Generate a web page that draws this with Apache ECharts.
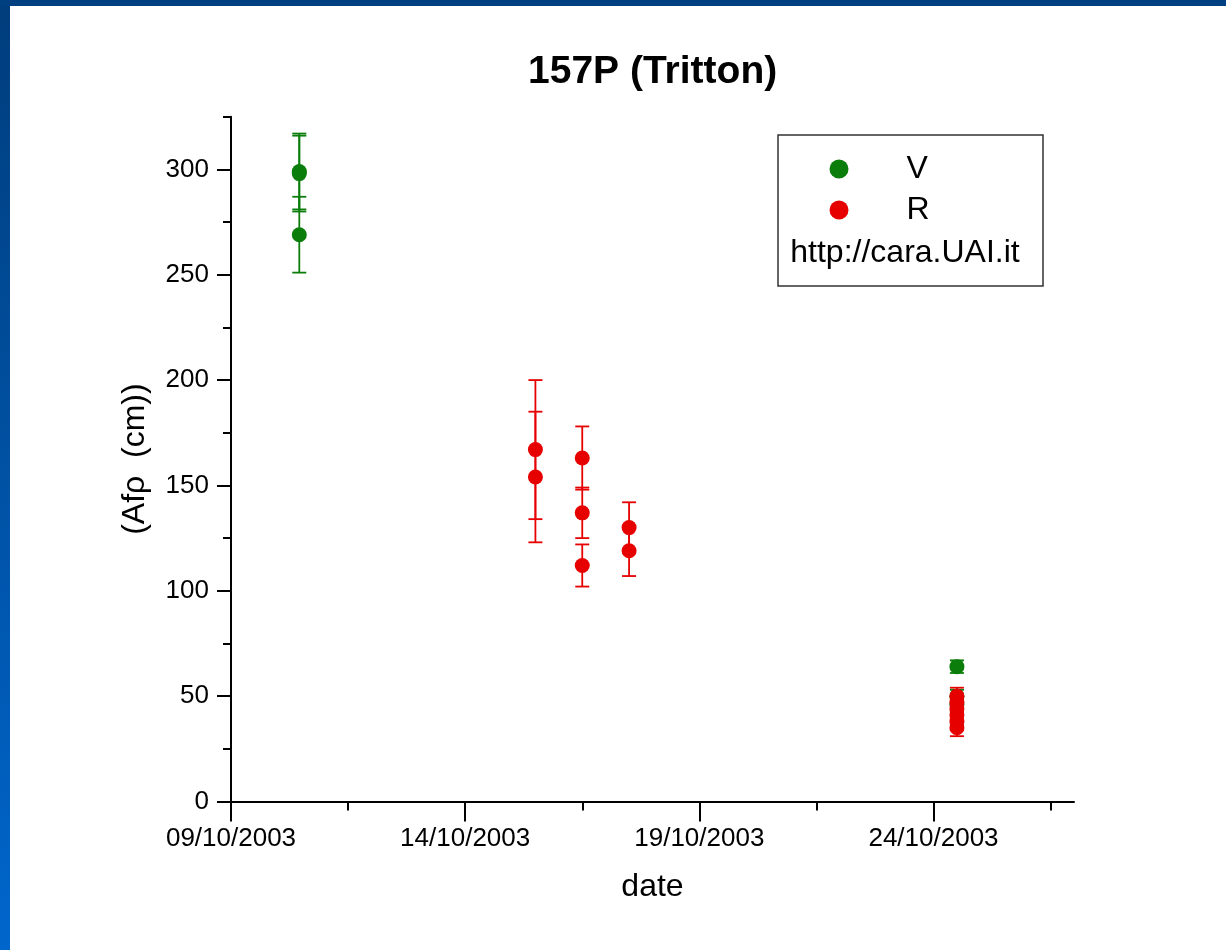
<!DOCTYPE html>
<html lang="en">
<head>
<meta charset="UTF-8">
<title>157P (Tritton)</title>
<script src="https://cdn.jsdelivr.net/npm/echarts@6/dist/echarts.min.js"></script>
<style>
    html,
    body {
        margin: 0;
        padding: 0;
        height: 100%;
        overflow: hidden;
    }

    body {
        background: linear-gradient(to bottom, #003d7c, #0066cc);
        position: relative;
    }

    #topBar {
        position: absolute;
        left: 0;
        top: 0;
        width: 100%;
        height: 6px;
        background-color: #003f80;
    }

    #chart {
        position: absolute;
        left: 10px;
        top: 6px;
        width: 1216px;
        height: 944px;
        background-color: #fff;
    }
</style>
</head>
<body>
<div id="topBar"></div>
<div id="chart"></div>

<script>
    // day 0 of the x axis = 09/10/2003
    const startDate = Date.UTC(2003, 9, 9);

    const xMajorTicks = [0, 5, 10, 15];
    const xMinorTicks = [2.5, 7.5, 12.5, 17.5];
    const yMajorTicks = [0, 50, 100, 150, 200, 250, 300];
    const yMinorTicks = [25, 75, 125, 175, 225, 275, 325];

    // V filter
    const vDates = ['2003-10-10T11:00', '2003-10-10T11:00', '2003-10-10T11:00',
        '2003-10-24T12:00', '2003-10-24T12:00', '2003-10-24T12:00'];
    const vValues = [299, 298, 269, 64, 50, 46];
    const vErrors = [18, 18, 18, 3, 3, 3];

    // R filter
    const rDates = ['2003-10-15T12:00', '2003-10-15T12:00',
        '2003-10-16T12:00', '2003-10-16T12:00', '2003-10-16T12:00',
        '2003-10-17T12:00', '2003-10-17T12:00',
        '2003-10-24T12:00', '2003-10-24T12:00', '2003-10-24T12:00',
        '2003-10-24T12:00', '2003-10-24T12:00', '2003-10-24T12:00'];
    const rValues = [167, 154, 163, 137, 112, 130, 119, 50, 47, 44, 41, 38, 35];
    const rErrors = [33, 31, 15, 12, 10, 12, 12, 4, 4, 4, 4, 4, 4];

    const green = '#0b7d0b';
    const red = '#e60000';
    const font = '"Liberation Sans", Arial, sans-serif';

    function toDay(s) {
        return (Date.parse(s + 'Z') - startDate) / 86400000;
    }

    function dayLabel(v) {
        const d = new Date(startDate + v * 86400000);
        const dd = String(d.getUTCDate()).padStart(2, '0');
        const mm = String(d.getUTCMonth() + 1).padStart(2, '0');
        return dd + '/' + mm + '/' + d.getUTCFullYear();
    }

    function points(dates, values) {
        return dates.map((d, i) => [toDay(d), values[i]]);
    }

    function bars(dates, values, errors) {
        return dates.map((d, i) => [toDay(d), values[i] - errors[i], values[i] + errors[i]]);
    }

    function errorBarSeries(name, color, data) {
        return {
            name: name,
            type: 'custom',
            data: data,
            encode: { x: 0, y: [1, 2] },
            renderItem: function (params, api) {
                const x = api.value(0);
                const top = api.coord([x, api.value(2)]);
                const bot = api.coord([x, api.value(1)]);
                const half = 7;
                const style = { stroke: color, lineWidth: 1.8 };
                return {
                    type: 'group',
                    children: [
                        { type: 'line', shape: { x1: top[0], y1: top[1], x2: bot[0], y2: bot[1] }, style: style },
                        { type: 'line', shape: { x1: top[0] - half, y1: top[1], x2: top[0] + half, y2: top[1] }, style: style },
                        { type: 'line', shape: { x1: bot[0] - half, y1: bot[1], x2: bot[0] + half, y2: bot[1] }, style: style }
                    ]
                };
            }
        };
    }

    var myChart = echarts.init(document.getElementById('chart'));

    var option = {
        animation: false,
        textStyle: { fontFamily: font },
        title: {
            text: '157P (Tritton)',
            left: 513,
            top: 42,
            textStyle: { fontFamily: font, fontSize: 39, fontWeight: 'bold', color: '#000' }
        },
        legend: {
            data: ['V', 'R'],
            orient: 'vertical',
            left: 819.5,
            top: 147,
            padding: 0,
            itemWidth: 19,
            itemHeight: 19,
            itemGap: 9,
            textStyle: { fontFamily: font, fontSize: 32, color: '#000', padding: [0, 0, 0, 53] }
        },
        graphic: [
            {
                type: 'rect',
                shape: { x: 768, y: 129, width: 265, height: 151 },
                style: { fill: 'none', stroke: '#333', lineWidth: 1.5 },
                z: 10
            },
            {
                type: 'text',
                x: 895,
                y: 247,
                style: {
                    text: 'http://cara.UAI.it',
                    font: '32px ' + font,
                    fill: '#000',
                    align: 'center',
                    verticalAlign: 'middle'
                },
                z: 10
            }
        ],
        grid: {
            left: 221,
            right: 152,
            top: 110.7,
            bottom: 148.5
        },
        xAxis: [
            {
                type: 'value',
                min: 0,
                max: 18,
                name: 'date',
                nameLocation: 'middle',
                nameGap: 70,
                nameTextStyle: { fontFamily: font, fontSize: 32, color: '#000' },
                splitLine: { show: false },
                axisLine: { onZero: false, lineStyle: { color: '#000', width: 2 } },
                axisTick: { customValues: xMajorTicks, length: 20, lineStyle: { color: '#000', width: 2 } },
                axisLabel: {
                    customValues: xMajorTicks,
                    formatter: dayLabel,
                    fontFamily: font,
                    fontSize: 26,
                    color: '#000',
                    margin: 24
                }
            },
            {
                type: 'value',
                min: 0,
                max: 18,
                position: 'bottom',
                splitLine: { show: false },
                axisLine: { show: false },
                axisLabel: { show: false },
                axisTick: { customValues: xMinorTicks, length: 9, lineStyle: { color: '#000', width: 2 } }
            }
        ],
        yAxis: [
            {
                type: 'value',
                min: 0,
                max: 325,
                name: '(Afρ  (cm))',
                nameLocation: 'middle',
                nameGap: 80,
                nameTextStyle: { fontFamily: font, fontSize: 32, color: '#000' },
                splitLine: { show: false },
                axisLine: { onZero: false, lineStyle: { color: '#000', width: 2 } },
                axisTick: { customValues: yMajorTicks, length: 14, lineStyle: { color: '#000', width: 2 } },
                axisLabel: {
                    customValues: yMajorTicks,
                    fontFamily: font,
                    fontSize: 26,
                    color: '#000',
                    margin: 22
                }
            },
            {
                type: 'value',
                min: 0,
                max: 325,
                position: 'left',
                splitLine: { show: false },
                axisLine: { show: false },
                axisLabel: { show: false },
                axisTick: { customValues: yMinorTicks, length: 8, lineStyle: { color: '#000', width: 2 } }
            }
        ],
        series: [
            {
                name: 'V',
                type: 'scatter',
                symbol: 'circle',
                symbolSize: 15,
                itemStyle: { color: green, opacity: 1 },
                data: points(vDates, vValues)
            },
            errorBarSeries('R err', red, bars(rDates, rValues, rErrors)),
            {
                name: 'R',
                type: 'scatter',
                symbol: 'circle',
                symbolSize: 15,
                itemStyle: { color: red, opacity: 1 },
                data: points(rDates, rValues)
            },
            errorBarSeries('V err', green, bars(vDates, vValues, vErrors))
        ]
    };

    myChart.setOption(option);
</script>
</body>
</html>
